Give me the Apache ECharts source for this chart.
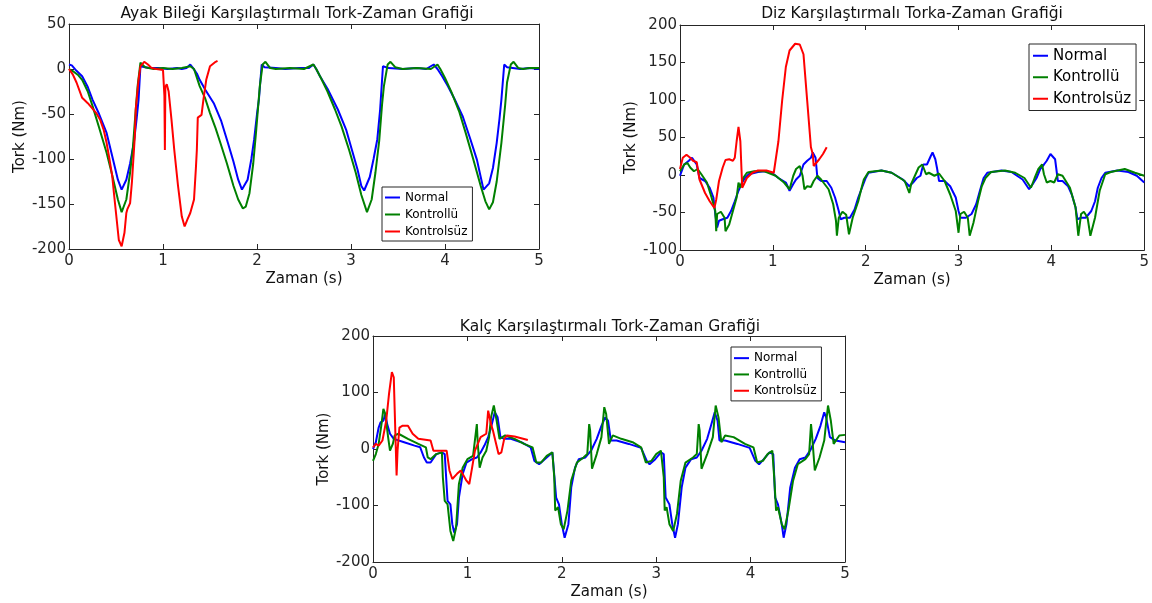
<!DOCTYPE html>
<html>
<head>
<meta charset="utf-8">
<script src="https://cdn.jsdelivr.net/npm/echarts@6/dist/echarts.min.js"></script>
<style>
  html, body { margin: 0; padding: 0; background: #fff; }
  #chart { width: 1152px; height: 603px; }
</style>
</head>
<body>
<div id="chart"></div>
<script>
const seriesNames = ['Normal', 'Kontrollü', 'Kontrolsüz'];
const timeTicks = [0, 1, 2, 3, 4, 5];
const ankleTicks = [-200, -150, -100, -50, 0, 50];
const kneeTicks = [-100, -50, 0, 50, 100, 150, 200];
const hipTicks = [-200, -100, 0, 100, 200];

// [zaman (s), tork (Nm)]
const ankleNormal = [[0,5],[0.03,4],[0.08,-2],[0.14,-8],[0.2,-20],[0.25,-34],[0.32,-50],[0.4,-71],[0.46,-97],[0.52,-123],[0.56,-134],[0.61,-123],[0.65,-105],[0.69,-82],[0.72,-55],[0.74,-34],[0.76,3],[0.78,2],[0.85,1],[0.95,1],[1.05,0],[1.15,1],[1.2,0],[1.25,1],[1.29,5],[1.32,1],[1.36,-5],[1.39,-12],[1.45,-23],[1.54,-38],[1.62,-58],[1.69,-82],[1.75,-103],[1.8,-123],[1.84,-134],[1.9,-123],[1.94,-100],[1.97,-78],[2.0,-50],[2.02,-34],[2.05,5],[2.08,2],[2.2,1],[2.3,0],[2.45,1],[2.55,1],[2.6,5],[2.63,0],[2.67,-8],[2.75,-22],[2.86,-45],[2.95,-68],[3.01,-90],[3.07,-112],[3.11,-130],[3.14,-135],[3.2,-120],[3.24,-100],[3.28,-78],[3.31,-45],[3.34,3],[3.36,5],[3.4,1],[3.55,0],[3.7,1],[3.8,0],[3.88,5],[3.92,0],[3.97,-8],[4.03,-19],[4.1,-33],[4.19,-53],[4.27,-78],[4.34,-101],[4.38,-120],[4.41,-134],[4.47,-127],[4.51,-110],[4.55,-82],[4.58,-55],[4.6,-34],[4.63,5],[4.66,2],[4.8,0],[4.9,1],[5,0]];
const ankleKontrollu = [[0,0],[0.05,-3],[0.1,-7],[0.14,-12],[0.2,-25],[0.25,-41],[0.32,-65],[0.4,-93],[0.46,-118],[0.52,-145],[0.56,-159],[0.61,-145],[0.65,-115],[0.68,-87],[0.71,-45],[0.73,-19],[0.76,7],[0.78,8],[0.81,2],[0.9,0],[1.0,1],[1.1,0],[1.2,1],[1.29,3],[1.33,0],[1.39,-19],[1.45,-33],[1.5,-49],[1.56,-66],[1.61,-82],[1.68,-105],[1.75,-130],[1.8,-145],[1.85,-155],[1.88,-153],[1.92,-138],[1.96,-105],[1.99,-70],[2.03,-19],[2.06,5],[2.09,8],[2.14,1],[2.2,0],[2.35,1],[2.5,0],[2.6,5],[2.63,0],[2.68,-10],[2.75,-25],[2.83,-45],[2.9,-64],[2.98,-90],[3.05,-115],[3.11,-140],[3.17,-159],[3.22,-145],[3.26,-115],[3.3,-80],[3.33,-40],[3.35,-19],[3.39,5],[3.42,8],[3.47,2],[3.55,0],[3.7,1],[3.85,0],[3.92,5],[3.95,0],[4.0,-10],[4.07,-26],[4.15,-47],[4.22,-71],[4.3,-100],[4.38,-130],[4.43,-147],[4.47,-156],[4.51,-148],[4.55,-125],[4.6,-82],[4.64,-40],[4.66,-15],[4.7,5],[4.73,8],[4.78,1],[4.83,0],[4.9,1],[5,1]];
const ankleKontrolsuz = [[0,0],[0.04,-6],[0.08,-15],[0.14,-32],[0.2,-38],[0.25,-44],[0.29,-49],[0.33,-56],[0.37,-68],[0.4,-82],[0.43,-100],[0.46,-119],[0.48,-140],[0.5,-160],[0.53,-190],[0.56,-197],[0.59,-182],[0.61,-160],[0.62,-156],[0.65,-149],[0.67,-125],[0.68,-108],[0.7,-75],[0.71,-45],[0.74,-12],[0.76,3],[0.8,8],[0.84,5],[0.88,1],[0.93,0],[1.0,-1],[1.015,-30],[1.02,-90],[1.025,-20],[1.04,-17],[1.06,-25],[1.09,-56],[1.12,-90],[1.16,-130],[1.2,-164],[1.23,-175],[1.26,-167],[1.29,-160],[1.33,-145],[1.35,-110],[1.36,-90],[1.37,-54],[1.41,-51],[1.43,-34],[1.46,-12],[1.5,3],[1.56,8],[1.58,9]];

const kneeNormal = [[0,-1],[0.045,14],[0.095,19],[0.13,23],[0.15,25],[0.18,14],[0.21,-4],[0.27,-8],[0.32,-17],[0.36,-30],[0.38,-52],[0.4,-70],[0.42,-61],[0.46,-59],[0.51,-57],[0.55,-48],[0.59,-35],[0.63,-21],[0.67,-10],[0.7,-4],[0.74,1],[0.84,4],[0.91,5],[0.99,3],[1.06,-4],[1.14,-10],[1.18,-21],[1.22,-12],[1.25,-6],[1.29,-1],[1.33,14],[1.37,19],[1.41,23],[1.43,30],[1.46,23],[1.48,-4],[1.52,-8],[1.58,-8],[1.63,-17],[1.67,-30],[1.71,-48],[1.73,-59],[1.77,-57],[1.83,-57],[1.88,-46],[1.92,-30],[1.96,-17],[2.0,-4],[2.03,3],[2.17,6],[2.28,3],[2.4,-6],[2.47,-15],[2.51,-10],[2.55,-4],[2.59,-1],[2.62,14],[2.66,14],[2.7,25],[2.72,30],[2.75,21],[2.77,8],[2.79,-8],[2.85,-8],[2.91,-15],[2.97,-30],[3.0,-48],[3.02,-57],[3.08,-57],[3.14,-52],[3.19,-39],[3.23,-21],[3.27,-4],[3.31,3],[3.46,6],[3.57,4],[3.69,-6],[3.76,-19],[3.8,-12],[3.84,-4],[3.88,8],[3.92,14],[3.95,19],[3.99,28],[4.01,30],[4.04,21],[4.07,-8],[4.12,-8],[4.18,-15],[4.22,-26],[4.26,-43],[4.28,-59],[4.32,-57],[4.37,-57],[4.43,-48],[4.47,-35],[4.5,-17],[4.54,-4],[4.58,3],[4.71,6],[4.83,4],[4.92,-1],[5,-10]];
const kneeKontrollu = [[0,5],[0.045,14],[0.08,16],[0.11,10],[0.15,5],[0.19,8],[0.23,1],[0.29,-10],[0.34,-30],[0.38,-48],[0.39,-75],[0.4,-52],[0.44,-49],[0.48,-57],[0.49,-75],[0.53,-66],[0.57,-48],[0.61,-30],[0.63,-10],[0.65,-17],[0.68,-4],[0.72,3],[0.8,5],[0.91,5],[1.03,-1],[1.12,-10],[1.18,-19],[1.22,-1],[1.25,8],[1.29,12],[1.32,-1],[1.34,-19],[1.37,-15],[1.41,-16],[1.44,-8],[1.48,-1],[1.52,-6],[1.6,-19],[1.65,-39],[1.68,-61],[1.69,-81],[1.71,-57],[1.75,-49],[1.79,-53],[1.82,-79],[1.86,-57],[1.92,-35],[1.96,-15],[1.98,-6],[2.03,4],[2.17,6],[2.28,3],[2.42,-8],[2.47,-24],[2.49,-12],[2.53,-1],[2.57,10],[2.61,14],[2.65,1],[2.68,3],[2.74,-1],[2.79,2],[2.85,-8],[2.91,-26],[2.97,-48],[3.0,-77],[3.02,-52],[3.06,-49],[3.1,-57],[3.12,-81],[3.16,-64],[3.21,-35],[3.25,-15],[3.29,-4],[3.35,4],[3.5,6],[3.61,3],[3.71,-4],[3.78,-17],[3.82,-4],[3.86,8],[3.9,14],[3.92,1],[3.95,-10],[3.99,-8],[4.03,-10],[4.07,1],[4.12,-1],[4.2,-17],[4.26,-43],[4.29,-81],[4.32,-52],[4.35,-49],[4.39,-57],[4.42,-81],[4.47,-57],[4.52,-21],[4.58,1],[4.64,4],[4.79,8],[4.9,3],[5,-1]];
const kneeKontrolsuz = [[0,8],[0.03,23],[0.07,27],[0.11,23],[0.14,19],[0.16,21],[0.18,17],[0.21,-6],[0.27,-24],[0.32,-35],[0.37,-44],[0.39,-33],[0.42,-8],[0.46,10],[0.49,20],[0.53,21],[0.57,19],[0.59,23],[0.61,45],[0.63,64],[0.65,45],[0.67,-17],[0.68,-19],[0.72,-4],[0.78,3],[0.84,6],[0.93,6],[1.01,3],[1.03,5],[1.06,45],[1.1,99],[1.14,144],[1.18,166],[1.24,175],[1.29,174],[1.33,161],[1.37,99],[1.41,37],[1.43,28],[1.44,12],[1.46,10],[1.5,21],[1.54,28],[1.58,37]];

const hipNormal = [[0,0],[0.03,12],[0.06,38],[0.08,47],[0.11,50],[0.13,62],[0.15,44],[0.18,27],[0.22,18],[0.33,12],[0.44,6],[0.5,3],[0.54,-15],[0.57,-24],[0.61,-24],[0.67,-9],[0.73,-6],[0.76,-9],[0.79,-92],[0.82,-98],[0.84,-133],[0.86,-148],[0.89,-133],[0.91,-86],[0.95,-44],[0.99,-24],[1.05,-18],[1.1,-15],[1.14,-6],[1.18,6],[1.22,21],[1.25,38],[1.29,65],[1.32,56],[1.35,21],[1.39,18],[1.46,18],[1.57,12],[1.67,3],[1.71,-21],[1.76,-27],[1.84,-15],[1.9,-6],[1.92,-9],[1.94,-86],[1.97,-98],[2.0,-133],[2.03,-157],[2.07,-133],[2.1,-68],[2.14,-33],[2.18,-18],[2.25,-15],[2.31,-3],[2.37,18],[2.42,41],[2.46,56],[2.49,50],[2.52,15],[2.58,15],[2.71,9],[2.84,2],[2.9,-21],[2.93,-27],[2.99,-18],[3.05,-6],[3.08,-9],[3.1,-86],[3.14,-98],[3.17,-133],[3.2,-157],[3.23,-133],[3.27,-68],[3.31,-33],[3.37,-18],[3.43,-15],[3.48,-3],[3.54,18],[3.58,41],[3.62,65],[3.65,50],[3.67,15],[3.73,15],[3.86,9],[3.99,2],[4.05,-21],[4.09,-27],[4.14,-18],[4.2,-6],[4.24,-9],[4.26,-86],[4.29,-98],[4.33,-133],[4.35,-157],[4.38,-133],[4.42,-68],[4.47,-33],[4.52,-18],[4.58,-15],[4.63,-3],[4.69,18],[4.74,41],[4.78,65],[4.8,56],[4.84,21],[4.9,15],[5,12]];
const hipKontrollu = [[0,-21],[0.03,-9],[0.06,9],[0.09,44],[0.11,71],[0.13,62],[0.16,21],[0.18,-3],[0.21,9],[0.23,24],[0.27,27],[0.37,18],[0.48,9],[0.56,3],[0.58,-15],[0.61,-18],[0.67,-9],[0.73,-6],[0.74,-50],[0.76,-92],[0.79,-98],[0.82,-145],[0.85,-163],[0.88,-139],[0.91,-62],[0.95,-33],[1.0,-18],[1.06,-12],[1.1,44],[1.11,9],[1.13,-33],[1.16,-15],[1.2,-3],[1.23,21],[1.25,56],[1.28,77],[1.31,50],[1.34,18],[1.4,24],[1.5,18],[1.6,9],[1.69,3],[1.73,-24],[1.78,-24],[1.84,-12],[1.9,-6],[1.92,-50],[1.93,-109],[1.96,-103],[1.99,-133],[2.02,-142],[2.06,-109],[2.1,-56],[2.16,-24],[2.23,-15],[2.27,-9],[2.29,44],[2.3,33],[2.32,-35],[2.37,-9],[2.42,21],[2.45,74],[2.47,62],[2.5,9],[2.54,24],[2.63,18],[2.75,12],[2.84,3],[2.89,-24],[2.95,-21],[3.0,-9],[3.05,-3],[3.08,-50],[3.09,-109],[3.11,-103],[3.14,-133],[3.18,-145],[3.22,-115],[3.26,-56],[3.31,-24],[3.39,-15],[3.43,-9],[3.45,44],[3.46,33],[3.48,-35],[3.54,-9],[3.6,21],[3.63,77],[3.66,56],[3.69,12],[3.73,24],[3.82,21],[3.94,9],[4.03,3],[4.07,-24],[4.13,-21],[4.18,-9],[4.23,-3],[4.25,-50],[4.27,-109],[4.29,-103],[4.33,-133],[4.36,-142],[4.4,-109],[4.45,-56],[4.5,-27],[4.58,-18],[4.62,-9],[4.64,44],[4.65,27],[4.68,-38],[4.73,-15],[4.78,15],[4.82,77],[4.85,50],[4.88,9],[4.94,24],[5,25]];
const hipKontrolsuz = [[0,3],[0.03,9],[0.06,6],[0.1,15],[0.14,50],[0.17,98],[0.2,136],[0.22,127],[0.23,68],[0.25,-47],[0.26,-3],[0.28,38],[0.31,41],[0.37,41],[0.42,27],[0.48,18],[0.61,15],[0.64,-3],[0.78,-3],[0.81,-38],[0.84,-53],[0.89,-44],[0.93,-38],[0.99,-56],[1.02,-62],[1.05,-33],[1.08,-3],[1.14,21],[1.2,27],[1.22,68],[1.25,44],[1.27,33],[1.3,12],[1.33,-9],[1.36,-6],[1.39,18],[1.42,24],[1.5,22],[1.57,19],[1.64,16]];

const font = "'DejaVu Sans', sans-serif";
const ink = '#262626';
const lineColors = ['#0000ff', '#008000', '#ff0000'];

const panels = [
  {
    title: 'Ayak Bileği Karşılaştırmalı Tork-Zaman Grafiği', titleX: 297, titleY: 6,
    grid: { left: 69, top: 24, width: 470, height: 225 },
    yTicks: ankleTicks,
    lines: [ankleNormal, ankleKontrollu, ankleKontrolsuz],
    legend: { left: 382, top: 187, fontSize: 12, lineHeight: 17, padding: [2, 5, 1, 3] }
  },
  {
    title: 'Diz Karşılaştırmalı Torka-Zaman Grafiği', titleX: 912, titleY: 6,
    grid: { left: 680, top: 25, width: 469, height: 225 },
    yTicks: kneeTicks,
    lines: [kneeNormal, kneeKontrollu, kneeKontrolsuz],
    legend: { left: 1029, top: 44, fontSize: 15, lineHeight: 21.5, padding: [1, 5, 1, 4] }
  },
  {
    title: 'Kalç Karşılaştırmalı Tork-Zaman Grafiği', titleX: 610, titleY: 319,
    grid: { left: 373, top: 336, width: 472, height: 226 },
    yTicks: hipTicks,
    lines: [hipNormal, hipKontrollu, hipKontrolsuz],
    legend: { left: 731, top: 347, fontSize: 12, lineHeight: 16.3, padding: [3, 5, 2, 3] }
  }
];

const axisLine = { onZero: false, lineStyle: { color: ink, width: 1 } };
const axisTick = { inside: true, length: 5, lineStyle: { color: ink } };
const labelStyle = { color: ink, fontSize: 15, fontFamily: font };

const grids = [], xAxes = [], yAxes = [], titles = [], legends = [], series = [];

panels.forEach((p, i) => {
  grids.push(Object.assign({ containLabel: false }, p.grid));

  const xBase = {
    gridIndex: i, type: 'value',
    min: timeTicks[0], max: timeTicks[timeTicks.length - 1], interval: timeTicks[1] - timeTicks[0],
    axisLine, axisTick, splitLine: { show: false }
  };
  xAxes.push(Object.assign({}, xBase, {
    position: 'bottom',
    axisLabel: Object.assign({ margin: 5 }, labelStyle),
    name: 'Zaman (s)', nameLocation: 'middle', nameGap: 23,
    nameTextStyle: { color: '#111', fontSize: 15, fontFamily: font }
  }));
  xAxes.push(Object.assign({}, xBase, { position: 'top', axisLabel: { show: false } }));

  const t = p.yTicks;
  const yBase = {
    gridIndex: i, type: 'value',
    min: t[0], max: t[t.length - 1], interval: t[1] - t[0],
    axisLine, axisTick, splitLine: { show: false }
  };
  yAxes.push(Object.assign({}, yBase, {
    position: 'left',
    axisLabel: Object.assign({ margin: 3 }, labelStyle),
    name: 'Tork (Nm)', nameLocation: 'middle', nameGap: 40,
    nameTextStyle: { color: '#111', fontSize: 15, fontFamily: font }
  }));
  yAxes.push(Object.assign({}, yBase, { position: 'right', axisLabel: { show: false } }));

  titles.push({
    text: p.title, left: p.titleX, top: p.titleY, textAlign: 'center', padding: 0,
    textStyle: { color: '#111', fontSize: 15.5, fontWeight: 'normal', fontFamily: font }
  });

  legends.push({
    data: seriesNames, orient: 'vertical', left: p.legend.left, top: p.legend.top,
    padding: p.legend.padding, itemGap: 0, itemWidth: 15, itemHeight: 2, icon: 'rect',
    borderColor: ink, borderWidth: 1, backgroundColor: '#fff', selectedMode: false,
    textStyle: { color: '#000', fontSize: p.legend.fontSize, lineHeight: p.legend.lineHeight, fontFamily: font }
  });

  p.lines.forEach((d, k) => {
    series.push({
      name: seriesNames[k], type: 'line', data: d,
      xAxisIndex: 2 * i, yAxisIndex: 2 * i,
      showSymbol: false, symbol: 'none', clip: true,
      lineStyle: { width: 2, color: lineColors[k] },
      itemStyle: { color: lineColors[k] }
    });
  });
});

const chart = echarts.init(document.getElementById('chart'));
chart.setOption({
  backgroundColor: '#fff',
  animation: false,
  title: titles,
  legend: legends,
  grid: grids,
  xAxis: xAxes,
  yAxis: yAxes,
  series
});
</script>
</body>
</html>
